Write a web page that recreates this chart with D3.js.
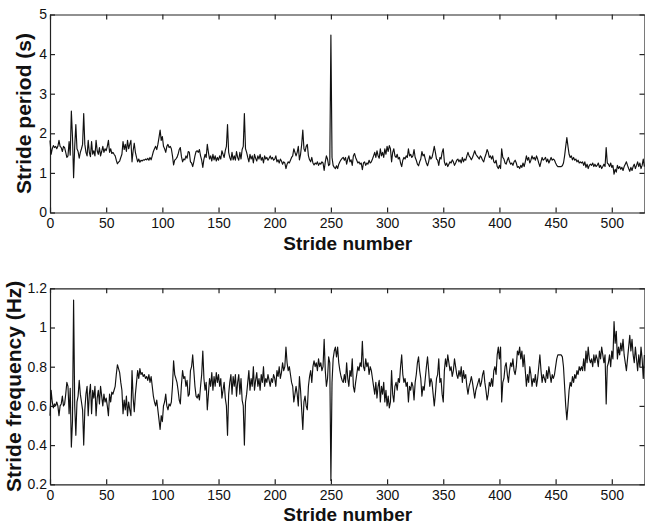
<!DOCTYPE html>
<html>
<head>
<meta charset="utf-8">
<script src="https://cdn.jsdelivr.net/npm/d3@7/dist/d3.min.js"></script>
<style>
  body { margin: 0; background: #fff; }
  svg text { font-family: "Liberation Sans", Arial, Helvetica, sans-serif; fill: #111; }
</style>
</head>
<body>
<div id="chart"></div>
<script>
// tick values
var strideTicks = [0, 50, 100, 150, 200, 250, 300, 350, 400, 450, 500];
var periodTicks = [0, 1, 2, 3, 4, 5];
var freqTicks = [0.2, 0.4, 0.6, 0.8, 1.0, 1.2];

// stride period (s), one value per stride
var periodSec = [
  1.82, 1.47, 1.61, 1.69, 1.64, 1.67, 1.61, 1.67, 1.82, 1.67,
  1.64, 1.54, 1.67, 1.64, 1.52, 1.39, 1.43, 1.79, 1.45, 2.56,
  1.92, 0.88, 1.67, 2.22, 1.61, 1.54, 1.37, 1.52, 1.61, 1.72,
  2.50, 1.72, 1.52, 1.43, 1.82, 1.52, 1.41, 1.79, 1.47, 1.56,
  1.43, 1.82, 1.56, 1.47, 1.64, 1.43, 1.54, 1.67, 1.52, 1.61,
  1.56, 1.67, 1.82, 1.52, 1.61, 1.49, 1.52, 1.47, 1.43, 1.32,
  1.23, 1.27, 1.30, 1.39, 1.47, 1.79, 1.59, 1.72, 1.54, 1.82,
  1.61, 1.72, 1.82, 1.28, 1.56, 1.75, 1.52, 1.39, 1.28, 1.35,
  1.27, 1.32, 1.30, 1.33, 1.32, 1.35, 1.33, 1.37, 1.32, 1.39,
  1.33, 1.43, 1.54, 1.61, 1.67, 1.59, 1.72, 1.89, 2.08, 1.82,
  1.92, 1.67, 1.61, 1.52, 1.67, 1.72, 1.64, 1.67, 1.61, 1.43,
  1.20, 1.32, 1.35, 1.39, 1.47, 1.59, 1.64, 1.41, 1.28, 1.35,
  1.33, 1.43, 1.37, 1.54, 1.52, 1.28, 1.25, 1.16, 1.28, 1.43,
  1.54, 1.56, 1.52, 1.59, 1.43, 1.32, 1.14, 1.35, 1.47, 1.39,
  1.72, 1.52, 1.35, 1.43, 1.30, 1.47, 1.33, 1.43, 1.30, 1.39,
  1.32, 1.43, 1.35, 1.56, 1.47, 1.39, 1.56, 1.67, 2.22, 1.52,
  1.39, 1.32, 1.52, 1.33, 1.43, 1.32, 1.54, 1.39, 1.32, 1.52,
  1.35, 1.59, 1.67, 2.50, 1.61, 1.52, 1.39, 1.28, 1.47, 1.35,
  1.43, 1.25, 1.47, 1.37, 1.30, 1.43, 1.35, 1.47, 1.32, 1.39,
  1.25, 1.43, 1.35, 1.39, 1.32, 1.37, 1.43, 1.35, 1.39, 1.32,
  1.35, 1.43, 1.28, 1.33, 1.25, 1.35, 1.30, 1.22, 1.28, 1.25,
  1.11, 1.22, 1.28, 1.25, 1.32, 1.39, 1.43, 1.61, 1.52, 1.43,
  1.52, 1.67, 1.33, 1.47, 1.72, 2.08, 1.61, 1.54, 1.67, 1.72,
  1.43, 1.33, 1.28, 1.39, 1.25, 1.20, 1.25, 1.22, 1.28, 1.19,
  1.25, 1.22, 1.28, 1.25, 1.06, 1.28, 1.43, 1.35, 1.18, 1.22,
  4.48, 1.39, 1.19, 1.14, 1.11, 1.18, 1.11, 1.22, 1.28, 1.33,
  1.37, 1.39, 1.32, 1.39, 1.22, 1.35, 1.43, 1.28, 1.33, 1.19,
  1.43, 1.49, 1.39, 1.32, 1.25, 1.28, 1.22, 1.25, 1.08, 1.25,
  1.28, 1.19, 1.25, 1.22, 1.32, 1.25, 1.28, 1.35, 1.43, 1.52,
  1.39, 1.56, 1.43, 1.37, 1.61, 1.43, 1.52, 1.39, 1.61, 1.47,
  1.67, 1.54, 1.69, 1.61, 1.28, 1.52, 1.61, 1.43, 1.39, 1.47,
  1.35, 1.39, 1.25, 1.16, 1.32, 1.39, 1.35, 1.43, 1.39, 1.61,
  1.43, 1.47, 1.39, 1.43, 1.59, 1.39, 1.32, 1.22, 1.18, 1.28,
  1.35, 1.54, 1.43, 1.47, 1.35, 1.25, 1.18, 1.28, 1.43, 1.35,
  1.39, 1.52, 1.67, 1.52, 1.35, 1.32, 1.19, 1.39, 1.35, 1.52,
  1.61, 1.28, 1.19, 1.25, 1.16, 1.22, 1.28, 1.25, 1.33, 1.28,
  1.19, 1.25, 1.32, 1.35, 1.28, 1.33, 1.25, 1.39, 1.28, 1.35,
  1.32, 1.43, 1.52, 1.43, 1.39, 1.33, 1.39, 1.47, 1.56, 1.47,
  1.43, 1.39, 1.35, 1.43, 1.39, 1.32, 1.28, 1.39, 1.47, 1.59,
  1.52, 1.39, 1.43, 1.35, 1.43, 1.28, 1.25, 1.32, 1.16, 1.11,
  1.19, 1.11, 1.61, 1.39, 1.35, 1.25, 1.22, 1.32, 1.39, 1.28,
  1.22, 1.25, 1.19, 1.28, 1.32, 1.25, 1.14, 1.16, 1.11, 1.19,
  1.14, 1.25, 1.16, 1.28, 1.43, 1.32, 1.39, 1.25, 1.32, 1.43,
  1.35, 1.39, 1.32, 1.43, 1.35, 1.25, 1.16, 1.28, 1.39, 1.32,
  1.35, 1.39, 1.28, 1.35, 1.25, 1.32, 1.39, 1.32, 1.35, 1.32,
  1.25, 1.19, 1.16, 1.16, 1.16, 1.16, 1.18, 1.25, 1.43, 1.67,
  1.89, 1.67, 1.47, 1.39, 1.43, 1.33, 1.39, 1.32, 1.35, 1.28,
  1.32, 1.25, 1.28, 1.25, 1.28, 1.19, 1.28, 1.14, 1.22, 1.11,
  1.19, 1.22, 1.19, 1.25, 1.16, 1.22, 1.16, 1.19, 1.25, 1.14,
  1.19, 1.11, 1.16, 1.22, 1.16, 1.64, 1.25, 1.22, 1.16, 1.25,
  1.14, 1.19, 0.97, 1.09, 1.02, 1.19, 1.11, 1.16, 1.09, 1.14,
  1.06, 1.16, 1.22, 1.28, 1.19, 1.11, 1.04, 1.14, 1.06, 1.16,
  1.22, 1.11, 1.19, 1.28, 1.16, 1.25, 1.11, 1.19, 1.35, 1.16
];

// stride frequency (Hz), one value per stride
var freqHz = [
  0.55, 0.68, 0.62, 0.59, 0.61, 0.60, 0.62, 0.60, 0.55, 0.60,
  0.61, 0.65, 0.60, 0.61, 0.66, 0.72, 0.70, 0.56, 0.69, 0.39,
  0.52, 1.14, 0.60, 0.45, 0.62, 0.65, 0.73, 0.66, 0.62, 0.58,
  0.40, 0.58, 0.66, 0.70, 0.55, 0.66, 0.71, 0.56, 0.68, 0.64,
  0.70, 0.55, 0.64, 0.68, 0.61, 0.70, 0.65, 0.60, 0.66, 0.62,
  0.64, 0.60, 0.55, 0.66, 0.62, 0.67, 0.66, 0.68, 0.70, 0.76,
  0.81, 0.79, 0.77, 0.72, 0.68, 0.56, 0.63, 0.58, 0.65, 0.55,
  0.62, 0.58, 0.55, 0.78, 0.64, 0.57, 0.66, 0.72, 0.78, 0.74,
  0.79, 0.76, 0.77, 0.75, 0.76, 0.74, 0.75, 0.73, 0.76, 0.72,
  0.75, 0.70, 0.65, 0.62, 0.60, 0.63, 0.58, 0.53, 0.48, 0.55,
  0.52, 0.60, 0.62, 0.66, 0.60, 0.58, 0.61, 0.60, 0.62, 0.70,
  0.83, 0.76, 0.74, 0.72, 0.68, 0.63, 0.61, 0.71, 0.78, 0.74,
  0.75, 0.70, 0.73, 0.65, 0.66, 0.78, 0.80, 0.86, 0.78, 0.70,
  0.65, 0.64, 0.66, 0.63, 0.70, 0.76, 0.88, 0.74, 0.68, 0.72,
  0.58, 0.66, 0.74, 0.70, 0.77, 0.68, 0.75, 0.70, 0.77, 0.72,
  0.76, 0.70, 0.74, 0.64, 0.68, 0.72, 0.64, 0.60, 0.45, 0.66,
  0.72, 0.76, 0.66, 0.75, 0.70, 0.76, 0.65, 0.72, 0.76, 0.66,
  0.74, 0.63, 0.60, 0.40, 0.62, 0.66, 0.72, 0.78, 0.68, 0.74,
  0.70, 0.80, 0.68, 0.73, 0.77, 0.70, 0.74, 0.68, 0.76, 0.72,
  0.80, 0.70, 0.74, 0.72, 0.76, 0.73, 0.70, 0.74, 0.72, 0.76,
  0.74, 0.70, 0.78, 0.75, 0.80, 0.74, 0.77, 0.82, 0.78, 0.80,
  0.90, 0.82, 0.78, 0.80, 0.76, 0.72, 0.70, 0.62, 0.66, 0.70,
  0.66, 0.60, 0.75, 0.68, 0.58, 0.48, 0.62, 0.65, 0.60, 0.58,
  0.70, 0.75, 0.78, 0.72, 0.80, 0.83, 0.80, 0.82, 0.78, 0.84,
  0.80, 0.82, 0.78, 0.80, 0.94, 0.78, 0.70, 0.74, 0.85, 0.82,
  0.22, 0.72, 0.84, 0.88, 0.90, 0.85, 0.90, 0.82, 0.78, 0.75,
  0.73, 0.72, 0.76, 0.72, 0.82, 0.74, 0.70, 0.78, 0.75, 0.84,
  0.70, 0.67, 0.72, 0.76, 0.80, 0.78, 0.82, 0.80, 0.93, 0.80,
  0.78, 0.84, 0.80, 0.82, 0.76, 0.80, 0.78, 0.74, 0.70, 0.66,
  0.72, 0.64, 0.70, 0.73, 0.62, 0.70, 0.66, 0.72, 0.62, 0.68,
  0.60, 0.65, 0.59, 0.62, 0.78, 0.66, 0.62, 0.70, 0.72, 0.68,
  0.74, 0.72, 0.80, 0.86, 0.76, 0.72, 0.74, 0.70, 0.72, 0.62,
  0.70, 0.68, 0.72, 0.70, 0.63, 0.72, 0.76, 0.82, 0.85, 0.78,
  0.74, 0.65, 0.70, 0.68, 0.74, 0.80, 0.85, 0.78, 0.70, 0.74,
  0.72, 0.66, 0.60, 0.66, 0.74, 0.76, 0.84, 0.72, 0.74, 0.66,
  0.62, 0.78, 0.84, 0.80, 0.86, 0.82, 0.78, 0.80, 0.75, 0.78,
  0.84, 0.80, 0.76, 0.74, 0.78, 0.75, 0.80, 0.72, 0.78, 0.74,
  0.76, 0.70, 0.66, 0.70, 0.72, 0.75, 0.72, 0.68, 0.64, 0.68,
  0.70, 0.72, 0.74, 0.70, 0.72, 0.76, 0.78, 0.72, 0.68, 0.63,
  0.66, 0.72, 0.70, 0.74, 0.70, 0.78, 0.80, 0.76, 0.86, 0.90,
  0.84, 0.90, 0.62, 0.72, 0.74, 0.80, 0.82, 0.76, 0.72, 0.78,
  0.82, 0.80, 0.84, 0.78, 0.76, 0.80, 0.88, 0.86, 0.90, 0.84,
  0.88, 0.80, 0.86, 0.78, 0.70, 0.76, 0.72, 0.80, 0.76, 0.70,
  0.74, 0.72, 0.76, 0.70, 0.74, 0.80, 0.86, 0.78, 0.72, 0.76,
  0.74, 0.72, 0.78, 0.74, 0.80, 0.76, 0.72, 0.76, 0.74, 0.76,
  0.80, 0.84, 0.86, 0.86, 0.86, 0.86, 0.85, 0.80, 0.70, 0.60,
  0.53, 0.60, 0.68, 0.72, 0.70, 0.75, 0.72, 0.76, 0.74, 0.78,
  0.76, 0.80, 0.78, 0.80, 0.78, 0.84, 0.78, 0.88, 0.82, 0.90,
  0.84, 0.82, 0.84, 0.80, 0.86, 0.82, 0.86, 0.84, 0.80, 0.88,
  0.84, 0.90, 0.86, 0.82, 0.86, 0.61, 0.80, 0.82, 0.86, 0.80,
  0.88, 0.84, 1.03, 0.92, 0.98, 0.84, 0.90, 0.86, 0.92, 0.88,
  0.94, 0.86, 0.82, 0.78, 0.84, 0.90, 0.96, 0.88, 0.94, 0.86,
  0.82, 0.90, 0.84, 0.78, 0.86, 0.80, 0.90, 0.84, 0.74, 0.86
];

var width = 645, height = 523;
var svg = d3.select("#chart").append("svg")
    .attr("width", width)
    .attr("height", height);

var x = d3.scaleLinear().domain([0, 530]).range([50, 645.5]);

function drawPanel(values, yDomain, yRange, yTicks, yFormat, yLabel, yLabelX, xLabelY) {
  var y = d3.scaleLinear().domain(yDomain).range(yRange);
  var g = svg.append("g");

  // bottom axis with labels, ticks pointing inward
  g.append("g")
      .attr("transform", "translate(0," + yRange[0] + ")")
      .call(d3.axisBottom(x).tickValues(strideTicks).tickSizeInner(-5).tickSizeOuter(0).tickPadding(6))
      .call(styleAxis);
  // top axis, ticks only
  g.append("g")
      .attr("transform", "translate(0," + yRange[1] + ")")
      .call(d3.axisTop(x).tickValues(strideTicks).tickSizeInner(-5).tickSizeOuter(0).tickFormat(""))
      .call(styleAxis);
  // left axis with labels
  g.append("g")
      .attr("transform", "translate(" + x(0) + ",0)")
      .call(d3.axisLeft(y).tickValues(yTicks).tickSizeInner(-5).tickSizeOuter(0).tickPadding(3).tickFormat(yFormat))
      .call(styleAxis);
  // right axis, ticks only
  g.append("g")
      .attr("transform", "translate(" + (x(530) - 1) + ",0)")
      .call(d3.axisRight(y).tickValues(yTicks).tickSizeInner(-5).tickSizeOuter(0).tickFormat(""))
      .call(styleAxis);

  var line = d3.line()
      .x(function(d, i) { return x(i); })
      .y(function(d) { return y(d); });

  g.append("path")
      .datum(values)
      .attr("fill", "none")
      .attr("stroke", "#111")
      .attr("stroke-width", 1.15)
      .attr("stroke-linejoin", "round")
      .attr("d", line);

  g.append("text")
      .attr("x", (x(0) + x(530)) / 2)
      .attr("y", xLabelY)
      .attr("text-anchor", "middle")
      .style("font-size", "19px")
      .style("font-weight", "bold")
      .text("Stride number");

  g.append("text")
      .attr("transform", "translate(" + yLabelX + "," + ((yRange[0] + yRange[1]) / 2) + ") rotate(-90)")
      .attr("text-anchor", "middle")
      .style("font-size", "21px")
      .style("font-weight", "bold")
      .text(yLabel);
}

function styleAxis(sel) {
  sel.select(".domain").attr("stroke", "#222").attr("stroke-width", 1.2);
  sel.selectAll(".tick line").attr("stroke", "#222").attr("stroke-width", 1.2);
  sel.selectAll(".tick text").style("font-size", "14px").attr("fill", "#111");
}

drawPanel(periodSec, [0, 5], [212.5, 14.5], periodTicks, d3.format("d"),
          "Stride period (s)", 31, 250);
drawPanel(freqHz, [0.2, 1.2], [484.3, 288.3], freqTicks, function(d) { return d === 1 ? "1" : d3.format(".1f")(d); },
          "Stride frequency (Hz)", 21, 520.5);
</script>
</body>
</html>
